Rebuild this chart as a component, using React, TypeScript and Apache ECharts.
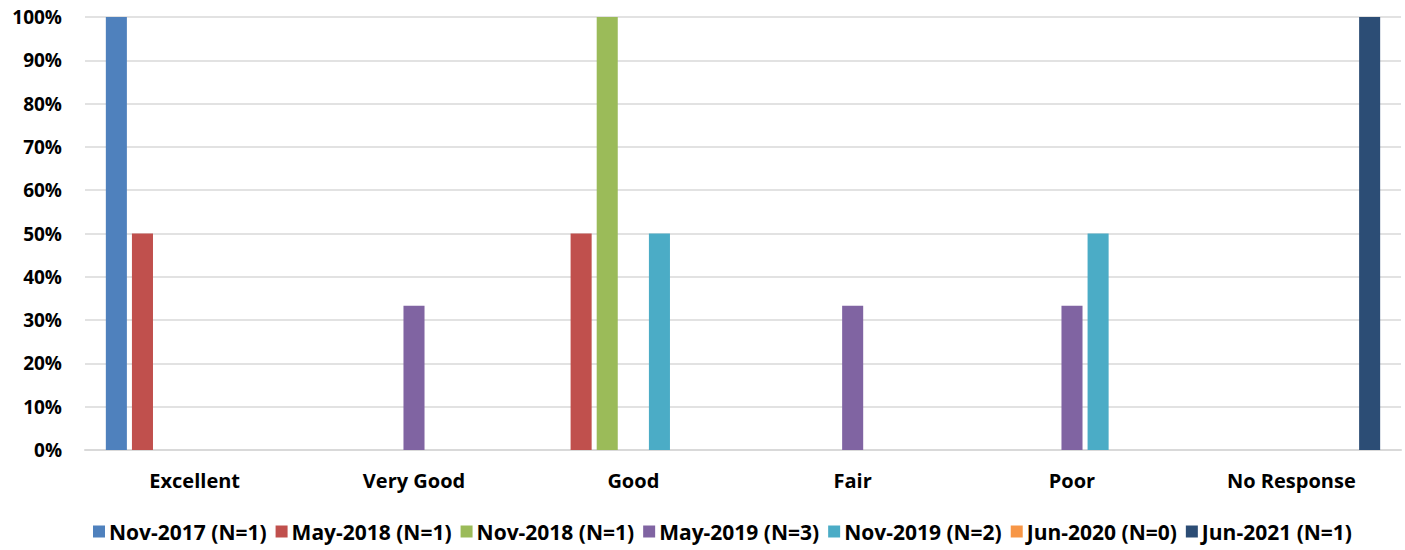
import React, { useEffect, useRef } from "react";
import * as echarts from "echarts";

const categories = ["Excellent", "Very Good", "Good", "Fair", "Poor", "No Response"];
const seriesNames = [
  "Nov-2017 (N=1)",
  "May-2018 (N=1)",
  "Nov-2018 (N=1)",
  "May-2019 (N=3)",
  "Nov-2019 (N=2)",
  "Jun-2020 (N=0)",
  "Jun-2021 (N=1)",
];
const nov2017 = [100, 0, 0, 0, 0, 0];
const may2018 = [50, 0, 50, 0, 0, 0];
const nov2018 = [0, 0, 100, 0, 0, 0];
const may2019 = [0, 33.3, 0, 33.3, 33.3, 0];
const nov2019 = [0, 0, 50, 0, 50, 0];
const jun2020 = [0, 0, 0, 0, 0, 0];
const jun2021 = [0, 0, 0, 0, 0, 100];
const seriesData = [nov2017, may2018, nov2018, may2019, nov2019, jun2020, jun2021];
const colors = ["#4F81BD", "#C0504D", "#9BBB59", "#8064A2", "#4BACC6", "#F79646", "#2C4D75"];

const FONT = "'Open Sans', Lato, sans-serif";

export default function App() {
  const ref = useRef<HTMLDivElement>(null);
  useEffect(() => {
    document.body.style.margin = "0";
    const chart = echarts.init(ref.current!, null, { renderer: "svg" });
    chart.setOption({
      animation: false,
      color: colors,
      grid: { left: 85, right: 4, top: 17, bottom: 100 },
      legend: {
        bottom: 3,
        left: 88,
        icon: "rect",
        itemWidth: 12,
        itemHeight: 12,
        itemGap: 9,
        textStyle: { fontFamily: FONT, fontWeight: "bold", fontSize: 21, color: "#000", padding: [0, 0, 0, -1] },
        data: seriesNames,
      },
      xAxis: {
        type: "category",
        data: categories,
        axisLine: { lineStyle: { color: "#D9D9D9", width: 2 } },
        axisTick: { show: false },
        axisLabel: {
          fontFamily: FONT,
          fontWeight: "bold",
          fontSize: 20,
          color: "#000",
          margin: 20,
        },
      },
      yAxis: {
        type: "value",
        min: 0,
        max: 100,
        interval: 10,
        axisLabel: {
          formatter: "{value}%",
          fontFamily: FONT,
          fontWeight: "bold",
          fontSize: 19,
          color: "#000",
          margin: 23,
        },
        splitLine: { lineStyle: { color: "#D9D9D9", width: 1.5 } },
        axisLine: { show: false },
        axisTick: { show: false },
      },
      series: seriesNames.map((name, i) => ({
        name,
        type: "bar",
        data: seriesData[i],
        barCategoryGap: "19%",
        barGap: "24%",
        itemStyle: { color: colors[i] },
      })),
    });
    return () => chart.dispose();
  }, []);
  return <div ref={ref} style={{ width: 1405, height: 550 }} />;
}
